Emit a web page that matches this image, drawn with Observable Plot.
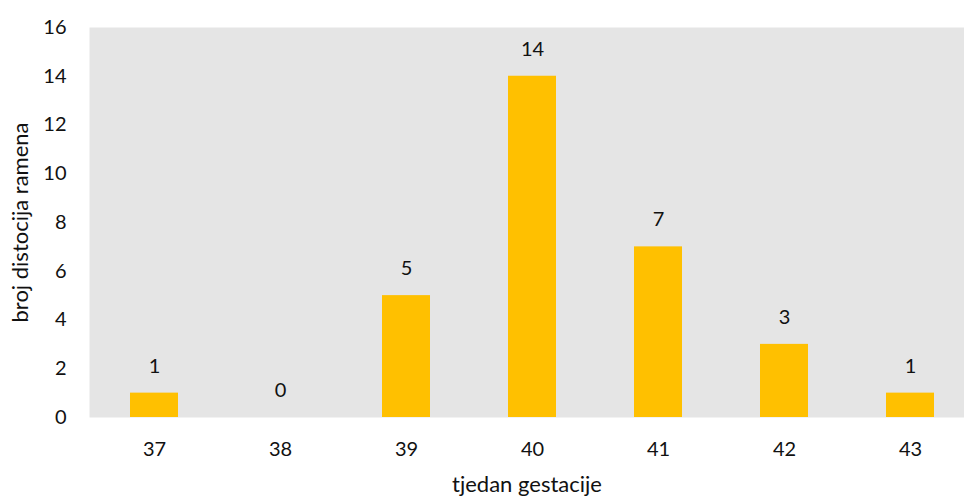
<!DOCTYPE html>
<html>
<head>
<meta charset="utf-8">
<script src="https://cdn.jsdelivr.net/npm/d3@7"></script>
<script src="https://cdn.jsdelivr.net/npm/@observablehq/plot@0.6"></script>
<style>
  html, body { margin: 0; padding: 0; background: #fff; overflow: hidden; }
  svg g[aria-label="y-axis label"] text, svg g[aria-label="x-axis label"] text { font-size: 22px; }
</style>
</head>
<body>
<div id="chart"></div>
<script>
const weeks = ["37", "38", "39", "40", "41", "42", "43"];
const counts = [1, 0, 5, 14, 7, 3, 1];
const yTicks = [0, 2, 4, 6, 8, 10, 12, 14, 16];
const xLabel = "tjedan gestacije";
const yLabel = "broj distocija ramena";

const data = weeks.map((w, i) => ({week: w, count: counts[i]}));

const chart = Plot.plot({
  width: 964,
  height: 496,
  marginLeft: 89,
  marginRight: 0,
  marginTop: 27,
  marginBottom: 79,
  style: {fontFamily: "Lato, 'Open Sans', sans-serif", fontSize: "20px", color: "#111", background: "#fff"},
  x: {domain: weeks, range: [89, 974.5], paddingInner: 0.62, paddingOuter: 0.31},
  y: {domain: [0, 16]},
  marks: [
    Plot.frame({fill: "#e5e5e5", stroke: null}),
    Plot.barY(data, {x: "week", y: "count", fill: "#ffc000"}),
    Plot.text(data, {x: "week", y: "count", text: d => String(d.count), dy: -27, fill: "#111", fontSize: 20}),
    Plot.axisY({ticks: yTicks, tickSize: 0, tickPadding: 23, label: yLabel, labelAnchor: "center", labelArrow: "none", labelOffset: 77, fontSize: 20}),
    Plot.axisX({tickSize: 0, tickPadding: 24, label: xLabel, labelAnchor: "center", labelArrow: "none", labelOffset: 74, fontSize: 20})
  ]
});
document.getElementById("chart").appendChild(chart);
</script>
</body>
</html>
